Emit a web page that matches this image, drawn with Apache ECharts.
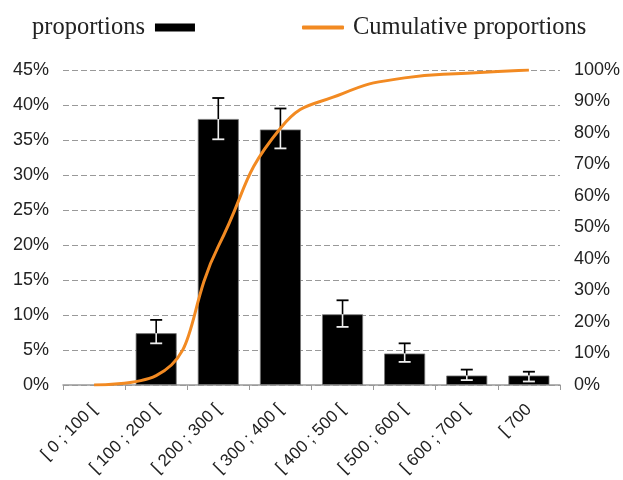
<!DOCTYPE html>
<html lang="en">
<head>
    <meta charset="UTF-8">
    <title>Proportions</title>
    <style>
        html, body { margin: 0; padding: 0; background: #fff; }
        #main { width: 623px; height: 480px; }
    </style>
</head>
<body>
    <div id="main"></div>
</body>
</html>
<script src="https://cdn.jsdelivr.net/npm/echarts@6/dist/echarts.min.js"></script>
<script>
    // bins
    var categories = ['[ 0 ; 100 [', '[ 100 ; 200 [', '[ 200 ; 300 [', '[ 300 ; 400 [',
        '[ 400 ; 500 [', '[ 500 ; 600 [', '[ 600 ; 700 [', '[ 700'];
    // proportions (%)
    var proportions = [0, 7.4, 38.0, 36.5, 10.1, 4.5, 1.35, 1.35];
    var errHigh = [null, 9.3, 41.0, 39.5, 12.1, 5.95, 2.2, 1.9];
    var errLow = [null, 5.95, 35.1, 33.8, 8.3, 3.3, 0.7, 0.5];
    // cumulative proportions (%)
    var cumulative = [0, 3, 44, 81.5, 92.5, 97.5, 99, 100];

    var errData = [];
    for (var i = 0; i < categories.length; i++) {
        if (errHigh[i] != null) errData.push([i, errHigh[i], errLow[i], proportions[i]]);
    }
    // empty bins are not drawn
    var barData = proportions.map(function (v) { return v === 0 ? '-' : v; });

    var mainChart = echarts.init(document.getElementById('main'));
    var labelFont = 'Liberation Sans';
    var legendFont = 'Liberation Serif';
    var orange = '#F28A22';

    var option = {
        animation: false,
        legend: [{
            data: ['proportions'],
            left: 27,
            top: 10,
            align: 'right',
            icon: 'rect',
            itemWidth: 40,
            itemHeight: 8,
            itemStyle: { borderWidth: 0 },
            textStyle: { fontFamily: legendFont, fontSize: 24.5, color: '#222', padding: [0, 5, 0, 0] }
        }, {
            data: ['Cumulative proportions'],
            left: 297,
            top: 10,
            icon: 'roundRect',
            itemWidth: 42,
            itemHeight: 4,
            textStyle: { fontFamily: legendFont, fontSize: 24.5, color: '#222', padding: [0, 0, 0, 4] }
        }],
        grid: { left: 63, right: 61, top: 70, bottom: 95 },
        xAxis: {
            type: 'category',
            data: categories,
            axisLine: { lineStyle: { color: '#999', width: 1.5 } },
            axisTick: { show: true, length: 5, lineStyle: { color: '#999' } },
            axisLabel: {
                rotate: 45,
                interval: 0,
                margin: 22,
                fontFamily: labelFont,
                fontSize: 17,
                color: '#222'
            }
        },
        yAxis: [{
            type: 'value',
            min: 0,
            max: 45,
            interval: 5,
            axisLine: { show: false },
            axisTick: { show: false },
            axisLabel: { formatter: '{value}%', margin: 14, fontFamily: labelFont, fontSize: 18, color: '#222' },
            splitLine: { lineStyle: { color: '#999', type: [6, 3], width: 1.2 } }
        }, {
            type: 'value',
            min: 0,
            max: 100,
            interval: 10,
            axisLine: { show: false },
            axisTick: { show: false },
            axisLabel: { formatter: '{value}%', margin: 14, fontFamily: labelFont, fontSize: 18, color: '#222' },
            splitLine: { show: false }
        }],
        series: [{
            name: 'proportions',
            type: 'bar',
            data: barData,
            barWidth: 41,
            itemStyle: { color: '#000', borderColor: '#777', borderWidth: 0.8 }
        }, {
            name: 'errors',
            type: 'custom',
            data: errData,
            z: 3,
            renderItem: function (params, api) {
                var x = api.value(0);
                var top = api.coord([x, api.value(1)]);
                var bot = api.coord([x, api.value(2)]);
                var barTop = api.coord([x, api.value(3)]);
                var cap = 6;
                return {
                    type: 'group',
                    children: [
                        { type: 'line', shape: { x1: top[0], y1: top[1], x2: top[0], y2: barTop[1] }, style: { stroke: '#000', lineWidth: 1.6 } },
                        { type: 'line', shape: { x1: top[0] - cap, y1: top[1], x2: top[0] + cap, y2: top[1] }, style: { stroke: '#000', lineWidth: 1.8 } },
                        { type: 'line', shape: { x1: bot[0], y1: barTop[1], x2: bot[0], y2: bot[1] }, style: { stroke: '#eee', lineWidth: 1.6 } },
                        { type: 'line', shape: { x1: bot[0] - cap, y1: bot[1], x2: bot[0] + cap, y2: bot[1] }, style: { stroke: '#eee', lineWidth: 1.8 } }
                    ]
                };
            }
        }, {
            name: 'Cumulative proportions',
            type: 'line',
            yAxisIndex: 1,
            data: cumulative,
            smooth: 0.5,
            symbol: 'none',
            z: 4,
            itemStyle: { color: orange },
            lineStyle: { color: orange, width: 3 }
        }]
    };
    mainChart.setOption(option);
</script>
